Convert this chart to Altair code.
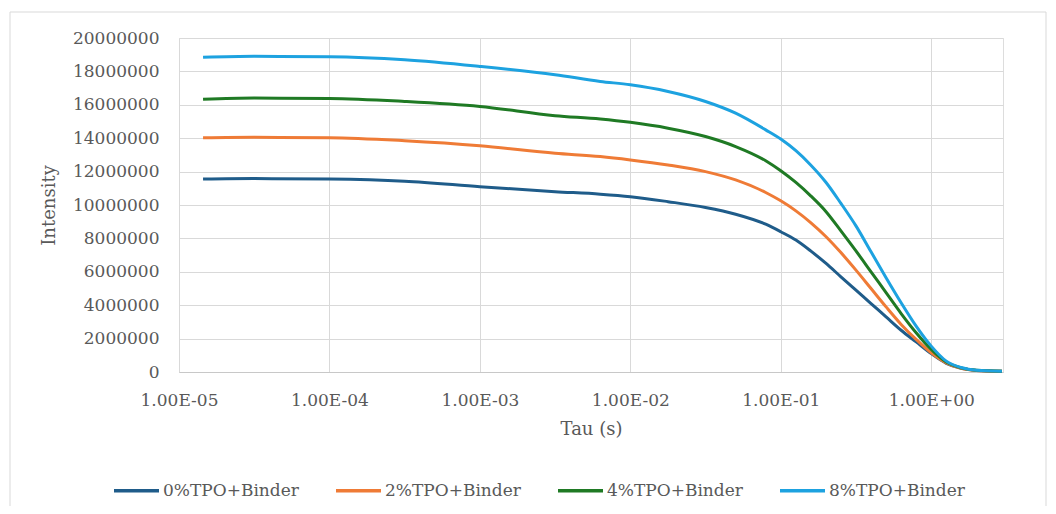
import altair as alt
import pandas as pd

# shared Tau (s) sample positions
tau = [1.445e-5, 3.16e-5, 1.0e-4, 3.16e-4, 1.0e-3, 3.16e-3, 6.31e-3, 1.0e-2,
       1.78e-2, 3.16e-2, 5.01e-2, 7.94e-2, 0.1, 0.126, 0.158, 0.2, 0.251,
       0.316, 0.398, 0.501, 0.631, 0.794, 1.0, 1.26, 1.58, 2.0, 2.95]

# intensity values (millions)
tpo0 = [11.55, 11.58, 11.55, 11.42, 11.10, 10.80, 10.65, 10.50, 10.20, 9.85,
        9.45, 8.85, 8.40, 7.90, 7.25, 6.50, 5.70, 4.90, 4.10, 3.30, 2.50,
        1.80, 1.10, 0.52, 0.22, 0.09, 0.04]
tpo2 = [14.02, 14.05, 14.03, 13.85, 13.55, 13.10, 12.90, 12.70, 12.40, 12.00,
        11.50, 10.75, 10.25, 9.65, 8.95, 8.10, 7.15, 6.10, 5.00, 3.90, 2.85,
        1.95, 1.15, 0.55, 0.22, 0.09, 0.04]
tpo4 = [16.33, 16.40, 16.38, 16.20, 15.90, 15.35, 15.15, 14.95, 14.60, 14.10,
        13.50, 12.65, 12.05, 11.35, 10.55, 9.60, 8.45, 7.25, 6.00, 4.75, 3.50,
        2.35, 1.35, 0.60, 0.25, 0.10, 0.04]
tpo8 = [18.84, 18.90, 18.88, 18.70, 18.30, 17.80, 17.40, 17.20, 16.80, 16.20,
        15.50, 14.50, 13.95, 13.25, 12.40, 11.35, 10.10, 8.75, 7.20, 5.65,
        4.15, 2.75, 1.55, 0.65, 0.27, 0.10, 0.04]

series = ["0%TPO+Binder", "2%TPO+Binder", "4%TPO+Binder", "8%TPO+Binder"]
colors = ["#1F5C8A", "#EF7B36", "#1F7A24", "#1DA2E0"]
x_ticks = [1e-5, 1e-4, 1e-3, 1e-2, 1e-1, 1.0]
y_ticks = [0, 2000000, 4000000, 6000000, 8000000, 10000000, 12000000,
           14000000, 16000000, 18000000, 20000000]

rows = []
for name, vals in zip(series, [tpo0, tpo2, tpo4, tpo8]):
    for t, v in zip(tau, vals):
        rows.append({"tau": t, "intensity": v * 1e6, "series": name})
df = pd.DataFrame(rows)

FONT = "DejaVu Serif"
GRAY = "#595959"

lines = alt.Chart(df).mark_line(strokeWidth=3, interpolate="monotone").encode(
    x=alt.X("tau:Q",
            scale=alt.Scale(type="log", domain=[1e-5, 3], nice=False),
            axis=alt.Axis(values=x_ticks, title="Tau (s)",
                          labelExpr="'1.00E' + (datum.value < 0.5 ? '-0' + toString(-round(log(datum.value)/LN10)) : '+00')",
                          labelFlush=False,
                          grid=True, gridColor="#d9d9d9", ticks=False,
                          domainColor="#c8c8c8", labelPadding=20,
                          labelFont=FONT, labelFontSize=17, labelColor=GRAY,
                          titleFont=FONT, titleFontSize=18, titleColor=GRAY,
                          titleFontWeight="normal", titlePadding=12)),
    y=alt.Y("intensity:Q",
            scale=alt.Scale(domain=[0, 20000000], nice=False),
            axis=alt.Axis(values=y_ticks, format="d", title="Intensity",
                          grid=True, gridColor="#d9d9d9", ticks=False,
                          domain=False, labelPadding=20,
                          labelFont=FONT, labelFontSize=17, labelColor=GRAY,
                          titleFont=FONT, titleFontSize=18, titleColor=GRAY,
                          titleFontWeight="normal", titlePadding=14)),
    color=alt.Color("series:N", sort=series,
                    scale=alt.Scale(domain=series, range=colors),
                    legend=alt.Legend(orient="none", legendX=-67, legendY=428,
                                      direction="horizontal", columns=4,
                                      title=None, symbolType="stroke",
                                      symbolSize=2025, symbolStrokeWidth=3.5,
                                      labelFont=FONT, labelFontSize=17,
                                      labelColor=GRAY, labelOffset=2,
                                      columnPadding=30)),
)

frame = alt.Chart(pd.DataFrame({"a": [0]})).mark_rect(
    fill=None, stroke="#d9d9d9", strokeWidth=1, clip=False
).encode(x=alt.value(-169), x2=alt.value(867), y=alt.value(-26), y2=alt.value(480))

chart = alt.layer(frame, lines).properties(
    width=824, height=334,
    autosize=alt.AutoSizeParams(type="none"),
    padding={"left": 171, "top": 30, "right": 45, "bottom": 134},
).configure_view(stroke=None).configure(background="white")

chart.save("out.html", embed_options={"renderer": "svg", "actions": False})
